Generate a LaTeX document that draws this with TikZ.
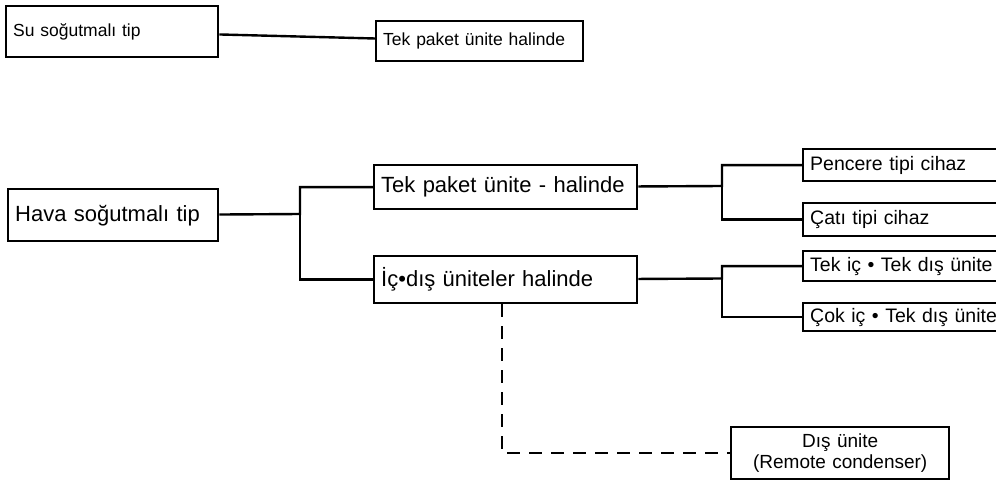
\documentclass[tikz,border=0pt]{standalone}
\usepackage{fontspec}
\setmainfont{Liberation Sans}
\usepackage{tikz}
\usetikzlibrary{positioning}
\newcommand{\lblsmall}{\fontsize{17.5}{20}\selectfont}
\newcommand{\lblmid}{\fontsize{22}{24}\selectfont}
\newcommand{\lblright}{\fontsize{19.5}{22}\selectfont}
\newcommand{\lblremote}{\fontsize{19}{21}\selectfont}

\begin{document}
\begin{tikzpicture}[x=1pt, y=-1pt,
  box/.style={draw, line width=2.4pt, anchor=north west, align=left, inner xsep=7pt, inner ysep=0pt},
  link/.style={line width=2.4pt},
  remote/.style={line width=2.4pt, dash pattern=on 13pt off 9pt}]
  \useasboundingbox (0,0) rectangle (996,486);
  \clip (0,0) rectangle (996,486);
  % su sogutmali
  \node (su) [box, text width=198pt, minimum height=51pt, font=\lblsmall] at (5,5) {Su soğutmalı tip};
  \node (tekA) [box, text width=193pt, minimum height=40pt, font=\lblsmall] at (375,20) {Tek paket ünite halinde};
  \draw[link] (su) -- (tekA);
  % hava sogutmali
  \node (hava) [box, text width=196pt, minimum height=52pt, font=\lblmid] at (7,188) {Hava soğutmalı tip};
  \node (tekB) [box, text width=249pt, minimum height=44pt, font=\lblmid] at (373,164) {Tek paket ünite - halinde};
  \node (icdis) [box, text width=249pt, minimum height=47pt, font=\lblmid] at (373,255) {İç•dış üniteler halinde};
  \coordinate (jA) at (300,214);
  \draw[link] (hava) -- (jA) |- (tekB);
  \draw[link] (jA) |- (icdis);
  % tek paket kollari
  \node (pencere) [box, text width=201pt, minimum height=32pt, font=\lblright] at (802,148) {Pencere tipi cihaz};
  \node (cati) [box, text width=201pt, minimum height=33pt, font=\lblright] at (802,202) {Çatı tipi cihaz};
  \coordinate (jB) at (722,186);
  \draw[link] (tekB) -- (jB) |- (pencere);
  \draw[link] (jB) |- (cati);
  % ic-dis kollari
  \node (tekic) [box, text width=201pt, minimum height=30pt, font=\lblright] at (802,250) {Tek iç • Tek dış ünite};
  \node (cokic) [box, text width=201pt, minimum height=28pt, font=\lblright] at (802,302) {Çok iç • Tek dış ünite};
  \coordinate (jC) at (722,278.5);
  \draw[link] (icdis) -- (jC) |- (tekic);
  \draw[link] (jC) |- (cokic);
  % uzak kondenser
  \node (dis) [box, align=center, text width=204pt, minimum height=52pt, font=\lblremote] at (730,426) {Dış ünite\\(Remote condenser)};
  \coordinate (kA) at (502,0);
  \draw[remote] (icdis.south -| kA) |- (dis.west);
\end{tikzpicture}
\end{document}
